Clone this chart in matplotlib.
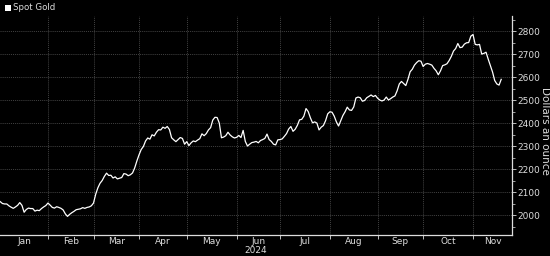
#!/usr/bin/env python3
"""Spot gold price, 2024, plotted on a trading-day axis."""

import matplotlib
matplotlib.use("Agg")
import matplotlib.pyplot as plt
import numpy as np
import pandas as pd
from matplotlib.ticker import FixedLocator, MultipleLocator

START_DATE = "2024-01-02"
# one close per weekday (dollars an ounce)
PRICES = [
    2058, 2050, 2048, 2048, 2040, 2034, 2029, 2035, 2042, 2054,
    2042, 2012, 2024, 2030, 2028, 2028, 2017, 2021, 2019, 2028,
    2035, 2041, 2052, 2043, 2033, 2030, 2036, 2033, 2029, 2022,
    2005, 1994, 2003, 2010, 2016, 2023, 2025, 2027, 2032, 2029,
    2033, 2035, 2040, 2052, 2090, 2118, 2138, 2150, 2168, 2182,
    2172, 2173, 2161, 2166, 2157, 2160, 2163, 2180, 2178, 2171,
    2175, 2183, 2205, 2235, 2262, 2285, 2298, 2322, 2335, 2330,
    2349, 2344, 2360, 2371, 2370, 2382, 2377, 2385, 2372, 2336,
    2327, 2319, 2328, 2337, 2333, 2308, 2319, 2302, 2314, 2322,
    2319, 2326, 2332, 2353, 2345, 2354, 2370, 2380, 2413, 2425,
    2424, 2400, 2336, 2339, 2345, 2360, 2348, 2340, 2335, 2338,
    2346, 2337, 2368, 2320, 2300, 2308, 2315, 2317, 2320, 2314,
    2324, 2328, 2333, 2352, 2328, 2320, 2308, 2305, 2327, 2328,
    2331, 2342, 2354, 2374, 2385, 2364, 2373, 2390, 2414, 2416,
    2430, 2463, 2450, 2423, 2401, 2405, 2400, 2370, 2382, 2389,
    2410, 2440, 2449, 2447, 2430, 2405, 2387, 2410, 2433, 2449,
    2469, 2457, 2455, 2470, 2509, 2513, 2510, 2495, 2498, 2510,
    2516, 2522, 2515, 2520, 2508, 2500, 2496, 2500, 2513, 2500,
    2506, 2513, 2518, 2540, 2570, 2581, 2572, 2563, 2590, 2623,
    2634, 2652, 2663, 2671, 2669, 2646, 2656, 2659, 2656, 2652,
    2638, 2627, 2610, 2627, 2650, 2653, 2658, 2672, 2690, 2713,
    2724, 2746, 2728, 2730, 2743, 2749, 2750, 2778, 2785, 2742,
    2740, 2742, 2700, 2703, 2708, 2678, 2650, 2622, 2585, 2570,
    2565, 2590,
]
Y_TICKS = [2000, 2100, 2200, 2300, 2400, 2500, 2600, 2700, 2800]
SERIES_LABEL = "Spot Gold"
Y_LABEL = "Dollars an ounce"
YEAR_LABEL = "2024"

BG = "#000000"
FG = "#dddddd"
GRID = "#5a5a5a"


def main() -> None:
    dates = pd.bdate_range(START_DATE, periods=len(PRICES))
    pos = np.arange(len(PRICES))

    fig = plt.figure(figsize=(5.5, 2.56), dpi=100, facecolor=BG)
    ax = fig.add_axes([0.0, 0.082, 0.931, 0.855], facecolor=BG)

    ax.plot(pos, PRICES, color="white", linewidth=0.9, solid_joinstyle="round")

    x_left, x_right = -0.12, 236.0
    ax.set_xlim(x_left, x_right)
    ax.set_ylim(1913, 2865)

    # month boundaries = first trading day of each month
    months = dates.month.to_numpy()
    starts = [i for i in range(1, len(months)) if months[i] != months[i - 1]]
    edges = [x_left] + starts + [x_right]
    centers = [(a + b) / 2 for a, b in zip(edges[:-1], edges[1:])]
    names = [dates[0].strftime("%b")] + [dates[i].strftime("%b") for i in starts]

    ax.xaxis.set_major_locator(FixedLocator(starts))
    ax.xaxis.set_minor_locator(FixedLocator(centers))
    ax.set_xticklabels([], minor=False)
    ax.set_xticklabels(names, minor=True)
    ax.tick_params(axis="x", which="major", length=3, width=0.6, color=FG, direction="out")
    ax.tick_params(axis="x", which="minor", length=0, pad=1.5, labelsize=6.5, labelcolor=FG)

    ax.yaxis.tick_right()
    ax.set_yticks(Y_TICKS)
    ax.yaxis.set_minor_locator(MultipleLocator(50))
    ax.tick_params(axis="y", which="major", length=3, width=0.6, color=FG,
                   labelsize=6.5, labelcolor=FG, pad=1)
    ax.tick_params(axis="y", which="minor", length=2, width=0.5, color=FG)

    ax.grid(True, which="major", color=GRID, linestyle=(0, (1.5, 1.5)), linewidth=0.5)

    for side in ("top", "left"):
        ax.spines[side].set_visible(False)
    for side in ("bottom", "right"):
        ax.spines[side].set_color(FG)
        ax.spines[side].set_linewidth(0.9)

    fig.text(0.991, 0.49, Y_LABEL, rotation=270, color=FG, fontsize=7.5,
             ha="center", va="center")
    fig.text(0.4655, 1 - 246 / 256, YEAR_LABEL, color=FG, fontsize=6.5,
             ha="center", va="top")

    # legend swatch + label
    fig.patches.append(plt.Rectangle((5 / 550, 1 - 11 / 256), 6 / 550, 6 / 256,
                                     transform=fig.transFigure, facecolor="white",
                                     edgecolor="none"))
    fig.text(13 / 550, 1 - 7.8 / 256, SERIES_LABEL, color=FG, fontsize=6.2,
             ha="left", va="center")

    fig.savefig("out.png", dpi=100, facecolor=BG)
    plt.close(fig)


if __name__ == "__main__":
    main()
